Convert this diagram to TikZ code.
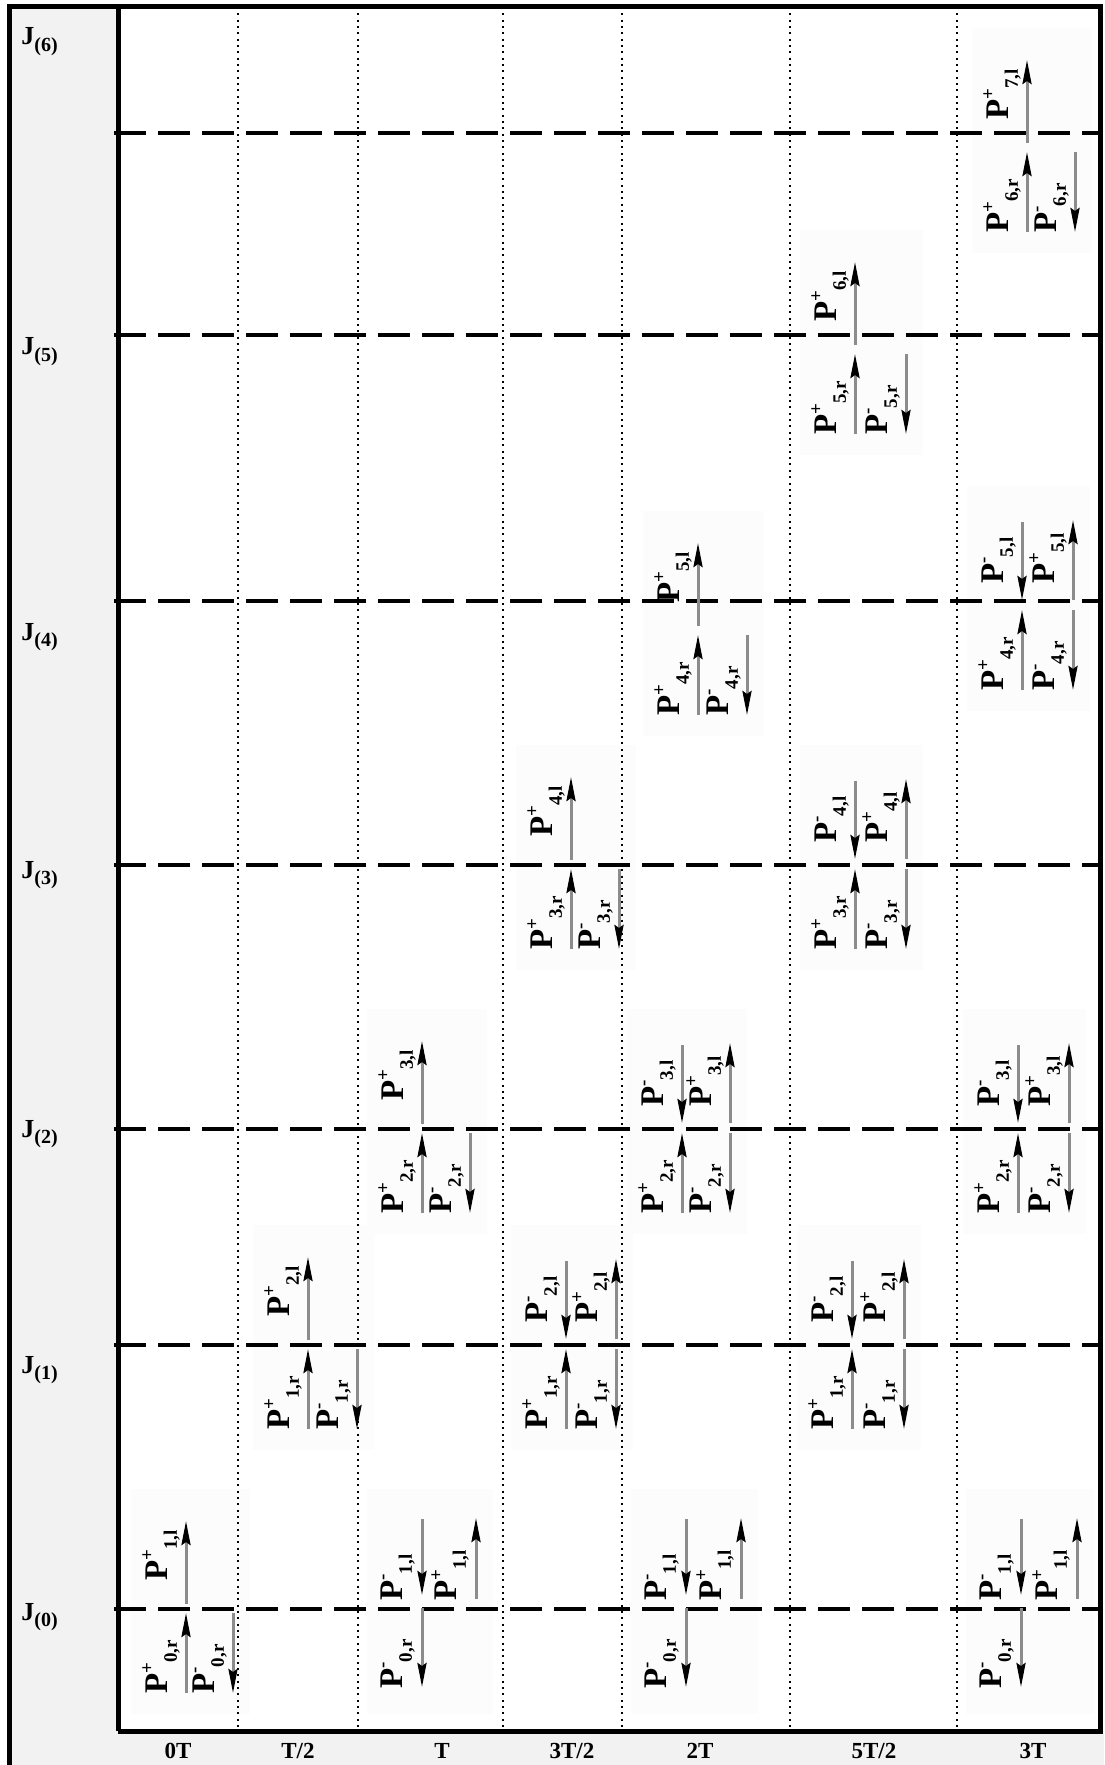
\documentclass[tikz,border=0pt]{standalone}
\usepackage{fontspec}
\setmainfont{Liberation Serif}
\usetikzlibrary{arrows.meta}
\definecolor{panelGray}{HTML}{F2F2F2}
\definecolor{patchGray}{HTML}{FCFCFC}
\definecolor{shaftGray}{HTML}{8C8C8C}
\newcommand{\plab}[2]{P\raisebox{.42em}{\fontsize{9.5}{9.5}\selectfont #1}\raisebox{-.3em}{\fontsize{9.5}{9.5}\selectfont #2}}
\newcommand{\jlab}[1]{J\raisebox{-.25em}{\fontsize{10}{10}\selectfont(#1)}}

\begin{document}
\begin{tikzpicture}[x=0.5pt, y=-0.5pt,
      frame/.style={line width=2.5pt},
      level/.style={line width=2pt, dash pattern=on 16pt off 6pt},
      tick/.style={line width=1pt, dash pattern=on 1pt off 2.17pt},
      patch/.style={fill=patchGray},
      parr/.style={draw=shaftGray, line width=1.5pt,
        -{Stealth[length=12pt, width=4.5pt, inset=1.5pt, color=black]}},
      ptxt/.style={rotate=90, anchor=base west, inner sep=0pt,
        font=\fontsize{16.5}{18}\selectfont\bfseries},
      jtxt/.style={anchor=base west, inner sep=0pt, font=\fontsize{13}{14}\selectfont\bfseries},
      ttxt/.style={anchor=base, inner sep=0pt, font=\fontsize{11.5}{12}\selectfont\bfseries}]
    \useasboundingbox (0,0) rectangle (1104,1765);
    % side and bottom strips
    \fill[panelGray] (9,7) rectangle (118,1765);
    \fill[panelGray] (118,1731) rectangle (1104,1765);
    % pasted patches behind the pulse groups
    \foreach \xa/\xb/\ly in {186/233/1609, 308/357/1345, 422/470/1129, 571/619/865,
        698/747/631, 855/906/350, 1027/1075/148, 422/476/1609, 686/741/1609,
        1021/1077/1609, 566/616/1345, 682/730/1129, 852/904/1345, 855/906/865,
        1018/1069/1129, 1022/1073/606}
      \fill[patch] (\xa-55,\ly-120) rectangle (\xb+17,\ly+105);
    % half periods
    \foreach \xt in {238,358,503,622,790,957}
      \draw[tick] (\xt,7) -- (\xt,1731);
    % junction levels
    \foreach \ly in {133,335,601,865,1129,1345,1609}
      \draw[level] (114,\ly) -- (1100,\ly);
    % frame
    \draw[frame] (9,1765) -- (9,7) -- (1100,7) -- (1100,1731) -- (118,1731);
    \draw[frame] (118,7) -- (118,1731);

    % front of the wave: one pulse goes on, two come out of the junction
    \foreach \xa/\xb/\ly/\k in {186/233/1609/0, 308/357/1345/1, 422/470/1129/2,
        571/619/865/3, 698/747/631/4, 855/906/350/5, 1027/1075/148/6} {
      \pgfmathtruncatemacro\kn{\k+1}
      \draw[parr] (\xa,\ly-5) -- (\xa,\ly-88);
      \node[ptxt] (up\k) at (\xa-19,\ly-28) {\plab{+}{\kn,l}};
      \draw[parr] (\xa,\ly+84) -- (\xa,\ly+4);
      \node[ptxt] (rp\k) at (\xa-19,\ly+85) {\plab{+}{\k,r}};
      \draw[parr] (\xb,\ly+4) -- (\xb,\ly+84);
      \node[ptxt] (rm\k) at (\xb-19,\ly+85) {\plab{-}{\k,r}};
    }
    % reflections at the bottom junction
    \foreach \xa/\xb/\ly/\n in {422/476/1609/t, 686/741/1609/u, 1021/1077/1609/v} {
      \draw[parr] (\xa,\ly-90) -- (\xa,\ly-14);
      \node[ptxt] (bm\n) at (\xa-20,\ly-8) {\plab{-}{1,l}};
      \draw[parr] (\xb,\ly-10) -- (\xb,\ly-91);
      \node[ptxt] (bp\n) at (\xb-20,\ly-8) {\plab{+}{1,l}};
      \draw[parr] (\xa,\ly-1) -- (\xa,\ly+78);
      \node[ptxt] (bd\n) at (\xa-20,\ly+80) {\plab{-}{0,r}};
    }
    % crossings at inner junctions
    \foreach \xa/\xb/\ly/\k/\n in {566/616/1345/1/a, 682/730/1129/2/b, 852/904/1345/1/c,
        855/906/865/3/d, 1018/1069/1129/2/e, 1022/1073/606/4/f} {
      \pgfmathtruncatemacro\kn{\k+1}
      \draw[parr] (\xa,\ly-84) -- (\xa,\ly-6);
      \node[ptxt] (xm\n) at (\xa-19,\ly-22) {\plab{-}{\kn,l}};
      \draw[parr] (\xb,\ly-6) -- (\xb,\ly-86);
      \node[ptxt] (xp\n) at (\xb-19,\ly-22) {\plab{+}{\kn,l}};
      \draw[parr] (\xa,\ly+84) -- (\xa,\ly+4);
      \node[ptxt] (yp\n) at (\xa-19,\ly+85) {\plab{+}{\k,r}};
      \draw[parr] (\xb,\ly+4) -- (\xb,\ly+84);
      \node[ptxt] (ym\n) at (\xb-19,\ly+85) {\plab{-}{\k,r}};
    }

    % junction names
    \foreach \k/\yb in {6/45, 5/355, 4/640, 3/878, 2/1137, 1/1373, 0/1620}
      \node[jtxt] (J\k) at (21,\yb) {\jlab{\k}};
    % time axis
    \node[ttxt] (t0) at (178,1758) {0T};
    \node[ttxt] (t1) at (298,1758) {T/2};
    \node[ttxt] (t2) at (442,1758) {T};
    \node[ttxt] (t3) at (572,1758) {3T/2};
    \node[ttxt] (t4) at (700,1758) {2T};
    \node[ttxt] (t5) at (874,1758) {5T/2};
    \node[ttxt] (t6) at (1033,1758) {3T};
  \end{tikzpicture}
\end{document}
